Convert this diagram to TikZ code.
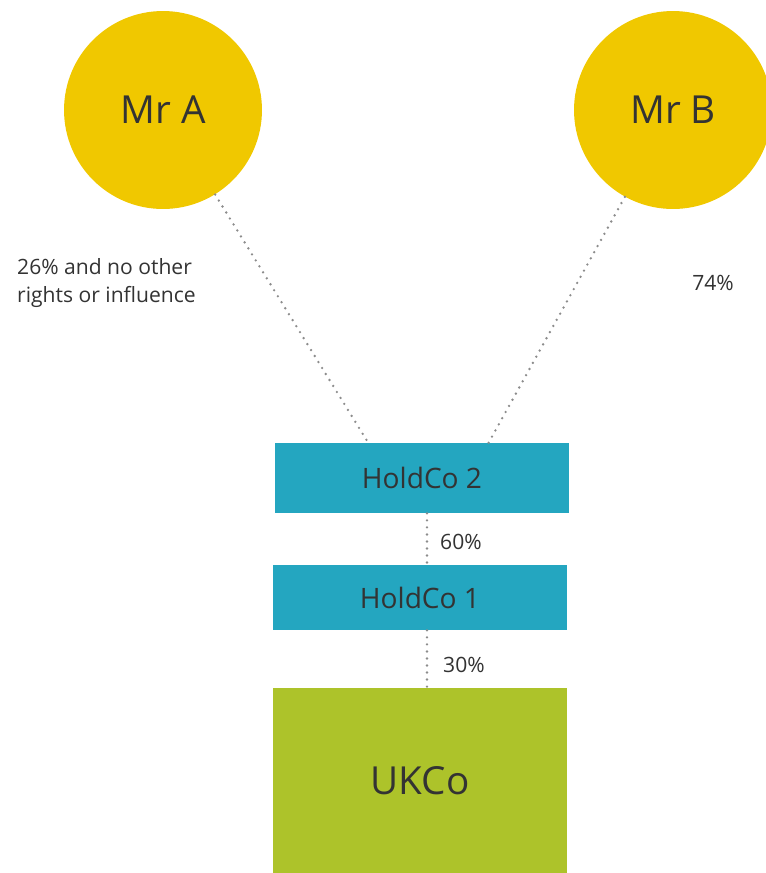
\documentclass[tikz,border=0pt]{standalone}
\usepackage{fontspec}
\setmainfont{Open Sans}
\usepackage{tikz}
\usetikzlibrary{calc}
\definecolor{owneryellow}{HTML}{F0C800}
\definecolor{holdteal}{HTML}{24A6C0}
\definecolor{ukgreen}{HTML}{ADC32A}
\definecolor{labelgrey}{HTML}{333333}
\definecolor{dotgrey}{HTML}{8C8C8C}

\begin{document}
\begin{tikzpicture}[line cap=round,line join=round,x=0.02cm,y=-0.02cm,
  owner/.style={circle,fill=owneryellow,minimum size=3.96cm,inner sep=0pt,font=\fontsize{22}{26}\selectfont,text=labelgrey},
  holdbox/.style={rectangle,fill=holdteal,minimum width=5.88cm,inner sep=0pt,font=\fontsize{16}{19}\selectfont,text=labelgrey},
  ukbox/.style={rectangle,fill=ukgreen,minimum width=5.88cm,minimum height=3.7cm,inner sep=0pt,font=\fontsize{22}{26}\selectfont,text=labelgrey},
  share/.style={font=\fontsize{12}{15.5}\selectfont,text=labelgrey},
  dotline/.style={draw=dotgrey,line width=1.5pt,dash pattern=on 0pt off 4pt}]
\useasboundingbox (0,0) rectangle (765,873);
% owners
\node[owner] (mra) at (163,110) {Mr A};
\node[owner] (mrb) at (673,110) {Mr B};
% companies
\node[holdbox,minimum height=1.4cm] (h2) at (422,478) {HoldCo 2};
\node[holdbox,minimum height=1.3cm] (h1) at (420,597.5) {HoldCo 1};
\node[ukbox] (uk) at (420,780.5) {UKCo};
% ends of the links on the boxes
\coordinate (h2a) at ($(h2.north)+(-52,3)$);
\coordinate (h2b) at ($(h2.north)+(65,3)$);
\coordinate (h2s) at ($(h2.south)+(5,0)$);
\coordinate (h1n) at ($(h1.north)+(7,0)$);
\coordinate (h1s) at ($(h1.south)+(7,0)$);
\coordinate (ukn) at ($(uk.north)+(7,0)$);
% links
\draw [dotline] (mra) -- (h2a);
\draw [dotline] (mrb) -- (h2b);
\draw [dotline] (h2s) -- (h1n);
\draw [dotline] (h1s) -- (ukn);
% shares
\node[share,align=left,anchor=west] (sa) at (11,283) {26\% and no other\\rights or influence};
\node[share] (sb) at (713,283) {74\%};
\node[share,anchor=west] (s2) at (434,542) {60\%};
\node[share,anchor=west] (s1) at (437,665) {30\%};
\end{tikzpicture}
\end{document}
